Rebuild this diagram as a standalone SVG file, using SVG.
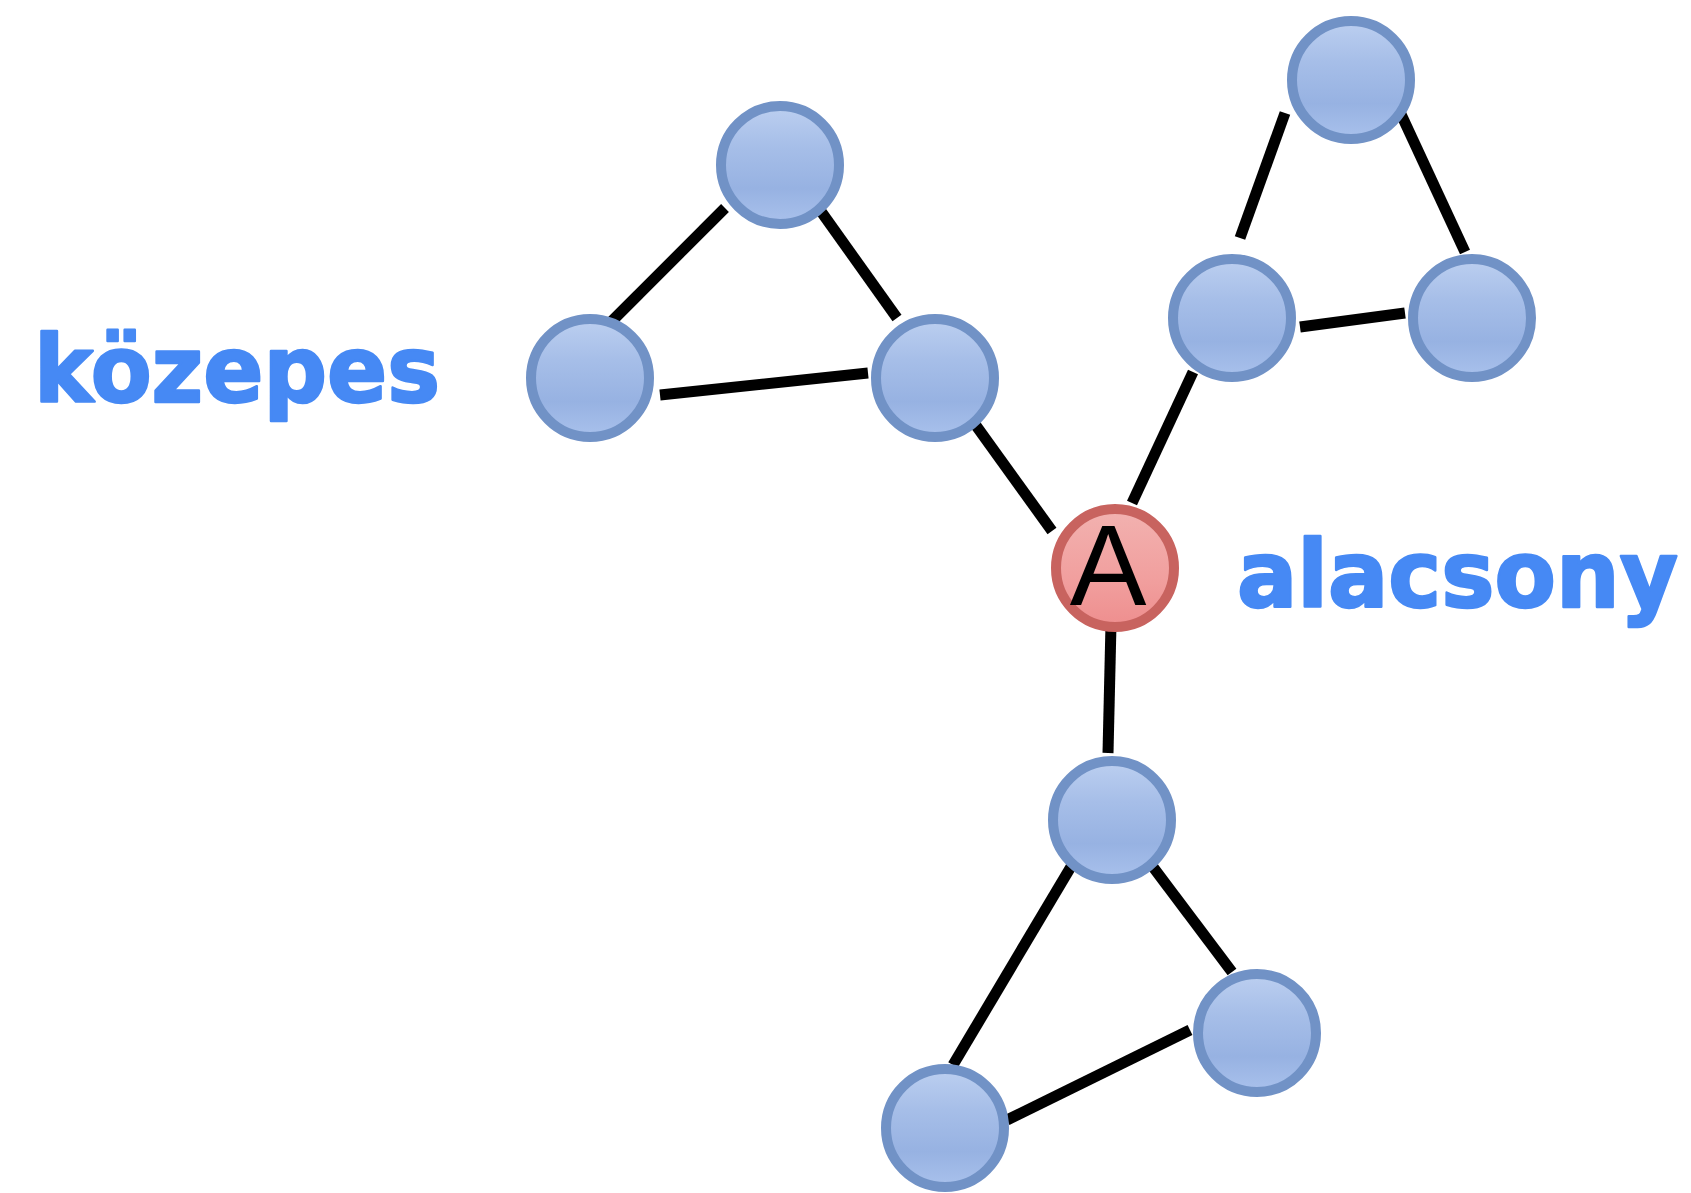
<svg xmlns="http://www.w3.org/2000/svg" width="1691" height="1193" viewBox="0 0 1691 1193">
<defs>
<linearGradient id="gb" x1="0" y1="0" x2="0" y2="1">
<stop offset="0" stop-color="#bccff0"/>
<stop offset="0.35" stop-color="#a6bee8"/>
<stop offset="0.7" stop-color="#97b2e2"/>
<stop offset="1" stop-color="#a9c1ec"/>
</linearGradient>
<linearGradient id="gr" x1="0" y1="0" x2="0" y2="1">
<stop offset="0" stop-color="#f2b2b0"/>
<stop offset="0.6" stop-color="#f19f9e"/>
<stop offset="1" stop-color="#ee8e8e"/>
</linearGradient>
</defs>
<style>
.n{fill:url(#gb);stroke:#7192c6;stroke-width:10}
.a{fill:url(#gr);stroke:#c8635f;stroke-width:10}
.e{stroke:#000;stroke-width:11;stroke-linecap:butt}
.lbl{font-family:"DejaVu Sans","Open Sans",sans-serif;font-weight:700;fill:#4689f4;stroke:#4689f4;stroke-width:2.5;stroke-linejoin:round}
.al{font-family:"Liberation Sans",Arial,sans-serif;font-size:115px;fill:#000}
</style>
<rect width="1691" height="1193" fill="#fff"/>
<g id="connectors">
<line class="e" x1="725" y1="208" x2="610" y2="323"/>
<line class="e" x1="815" y1="203" x2="897" y2="318"/>
<line class="e" x1="660" y1="395" x2="868" y2="373"/>
<line class="e" x1="972" y1="420" x2="1052" y2="531"/>
<line class="e" x1="1193" y1="372" x2="1132" y2="503"/>
<line class="e" x1="1285" y1="113" x2="1240" y2="238"/>
<line class="e" x1="1400" y1="112" x2="1465" y2="252"/>
<line class="e" x1="1300" y1="327" x2="1405" y2="313"/>
<line class="e" x1="1111" y1="624" x2="1108" y2="753"/>
<line class="e" x1="1072" y1="865" x2="953" y2="1065"/>
<line class="e" x1="1150" y1="863" x2="1232" y2="972"/>
<line class="e" x1="1007" y1="1120" x2="1190" y2="1030"/>
</g>
<g id="n1"><circle class="n" cx="780" cy="165" r="59"/></g>
<g id="n2"><circle class="n" cx="590" cy="378" r="59"/></g>
<g id="n3"><circle class="n" cx="935" cy="378" r="59"/></g>
<g id="n4"><circle class="n" cx="1351" cy="80" r="59"/></g>
<g id="n5"><circle class="n" cx="1232" cy="318" r="59"/></g>
<g id="n6"><circle class="n" cx="1472" cy="318" r="59"/></g>
<g id="n7"><circle class="n" cx="1112" cy="820" r="59"/></g>
<g id="n8"><circle class="n" cx="1257" cy="1033" r="59"/></g>
<g id="n9"><circle class="n" cx="945" cy="1128" r="59"/></g>
<g id="nA"><circle class="a" cx="1115" cy="568" r="59"/><text class="al" x="1108" y="605" text-anchor="middle">A</text></g>
<g id="label-kozepes"><text class="lbl" x="34" y="402" font-size="92" textLength="406" lengthAdjust="spacingAndGlyphs">közepes</text></g>
<g id="label-alacsony"><text class="lbl" x="1237" y="607" font-size="92" textLength="441" lengthAdjust="spacingAndGlyphs">alacsony</text></g>
</svg>
